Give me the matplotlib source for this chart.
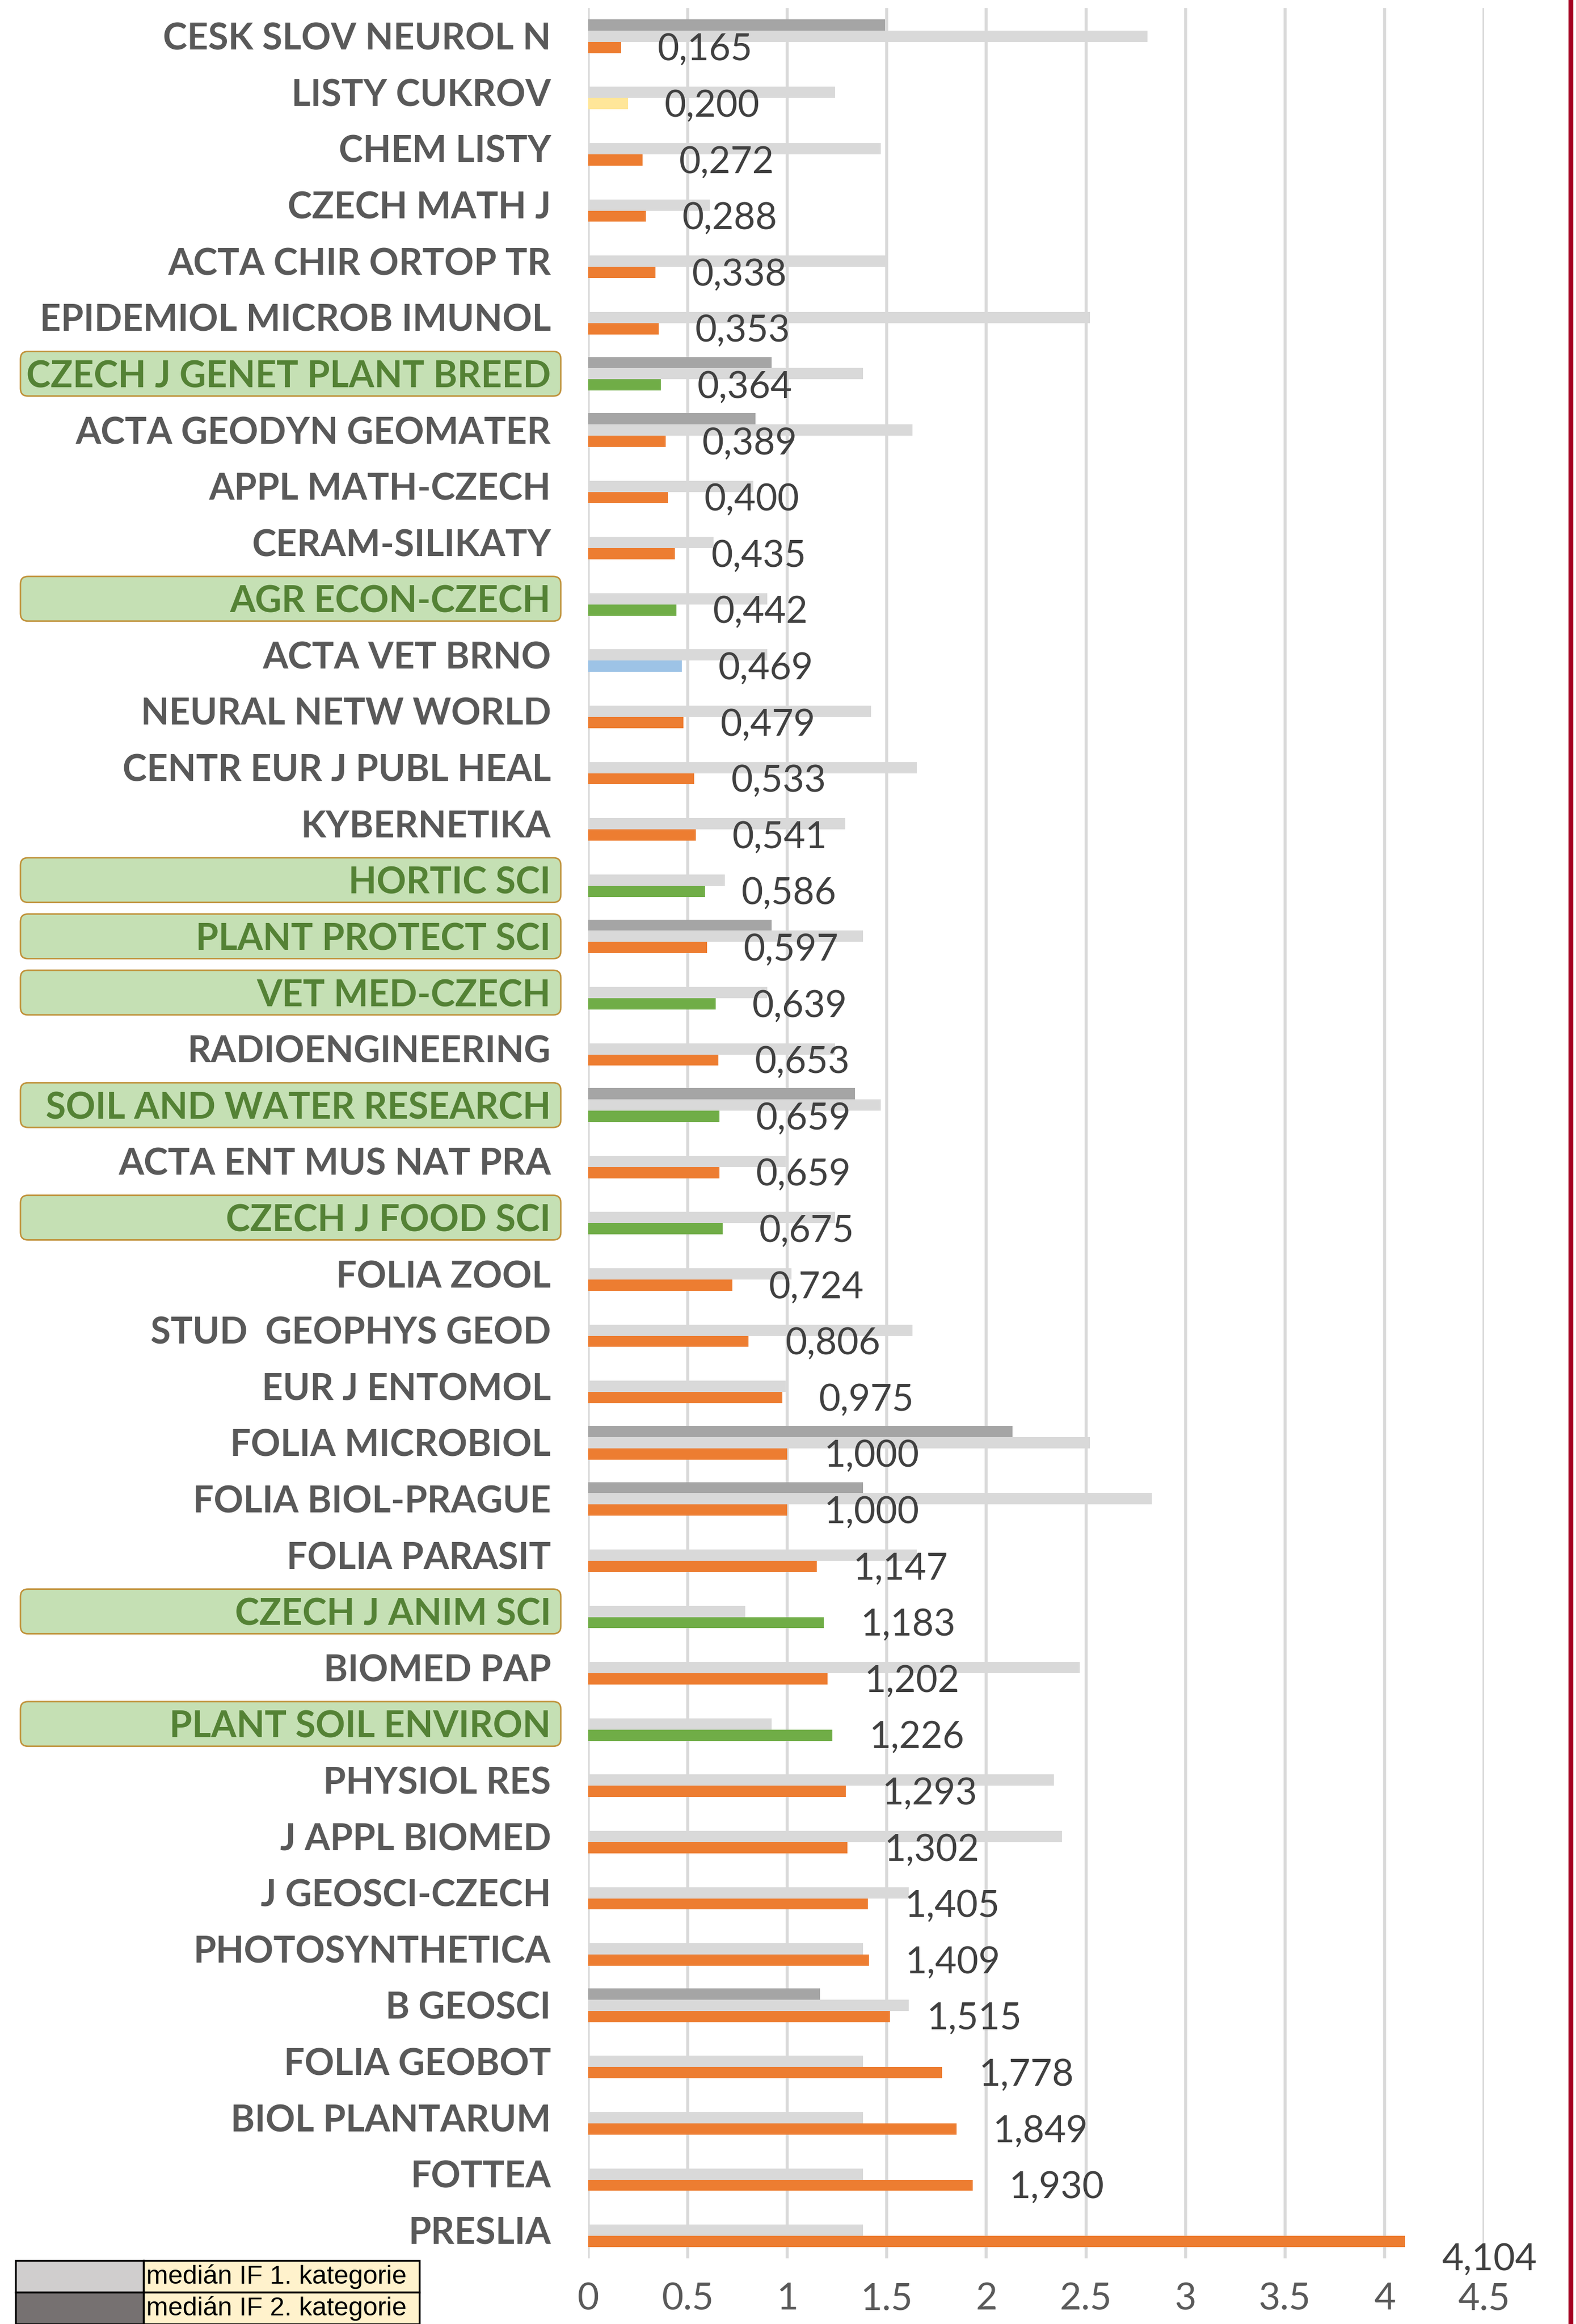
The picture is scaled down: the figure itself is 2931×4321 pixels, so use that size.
import numpy as np
import matplotlib
matplotlib.use("Agg")
import matplotlib.pyplot as plt
from matplotlib.patches import FancyBboxPatch, Rectangle
from matplotlib.lines import Line2D
from matplotlib.transforms import IdentityTransform

plt.rcParams['font.family'] = ['Lato', 'DejaVu Sans']

# data (top to bottom)
casopisy = ["CESK SLOV NEUROL N", "LISTY CUKROV", "CHEM LISTY", "CZECH MATH J",
            "ACTA CHIR ORTOP TR", "EPIDEMIOL MICROB IMUNOL", "CZECH J GENET PLANT BREED",
            "ACTA GEODYN GEOMATER", "APPL MATH-CZECH", "CERAM-SILIKATY", "AGR ECON-CZECH",
            "ACTA VET BRNO", "NEURAL NETW WORLD", "CENTR EUR J PUBL HEAL", "KYBERNETIKA",
            "HORTIC SCI", "PLANT PROTECT SCI", "VET MED-CZECH", "RADIOENGINEERING",
            "SOIL AND WATER RESEARCH", "ACTA ENT MUS NAT PRA", "CZECH J FOOD SCI",
            "FOLIA ZOOL", "STUD  GEOPHYS GEOD", "EUR J ENTOMOL", "FOLIA MICROBIOL",
            "FOLIA BIOL-PRAGUE", "FOLIA PARASIT", "CZECH J ANIM SCI", "BIOMED PAP",
            "PLANT SOIL ENVIRON", "PHYSIOL RES", "J APPL BIOMED", "J GEOSCI-CZECH",
            "PHOTOSYNTHETICA", "B GEOSCI", "FOLIA GEOBOT", "BIOL PLANTARUM", "FOTTEA", "PRESLIA"]

if_hodnoty = [0.165, 0.200, 0.272, 0.288, 0.338, 0.353, 0.364, 0.389, 0.400, 0.435,
              0.442, 0.469, 0.479, 0.533, 0.541, 0.586, 0.597, 0.639, 0.653, 0.659,
              0.659, 0.675, 0.724, 0.806, 0.975, 1.000, 1.000, 1.147, 1.183, 1.202,
              1.226, 1.293, 1.302, 1.405, 1.409, 1.515, 1.778, 1.849, 1.930, 4.104]

median1 = [2.81, 1.24, 1.47, 0.61, 1.50, 2.52, 1.38, 1.63, 0.83, 0.63,
           0.90, 0.90, 1.42, 1.65, 1.29, 0.685, 1.38, 0.90, 1.24, 1.47,
           0.99, 1.24, 1.02, 1.63, 0.99, 2.52, 2.83, 1.65, 0.79, 2.47,
           0.92, 2.34, 2.38, 1.61, 1.38, 1.61, 1.38, 1.38, 1.38, 1.38]

median2 = [1.49, None, None, None, None, None, 0.92, 0.84, None, None,
           None, None, None, None, None, None, 0.92, None, None, 1.34,
           None, None, None, None, None, 2.13, 1.38, None, None, None,
           None, None, None, None, None, 1.165, None, None, None, None]

# o = orange, g = green, y = yellow, b = blue
kody = ["o", "y", "o", "o", "o", "o", "g", "o", "o", "o",
        "g", "b", "o", "o", "o", "g", "o", "g", "o", "g",
        "o", "g", "o", "o", "o", "o", "o", "o", "g", "o",
        "g", "o", "o", "o", "o", "o", "o", "o", "o", "o"]

zvyraznene = ["CZECH J GENET PLANT BREED", "AGR ECON-CZECH", "HORTIC SCI",
              "PLANT PROTECT SCI", "VET MED-CZECH", "SOIL AND WATER RESEARCH",
              "CZECH J FOOD SCI", "CZECH J ANIM SCI", "PLANT SOIL ENVIRON"]

legenda = ["medián IF 1. kategorie", "medián IF 2. kategorie"]

barvy = {"o": "#ED7D31", "g": "#70AD47", "y": "#FFE699", "b": "#9DC3E6"}

W, H = 2931, 4321
fig = plt.figure(figsize=(W / 100, H / 100), dpi=100)
ax = fig.add_axes([1094 / W, 1 - 4199 / H, (2760 - 1094) / W, (4199 - 15) / H])

y = np.arange(len(casopisy))
m2 = np.array([np.nan if v is None else v for v in median2])
ax.barh(y - 0.2, m2, height=0.2, color="#A5A5A5", zorder=2)
ax.barh(y, median1, height=0.2, color="#D9D9D9", zorder=2)
ax.barh(y + 0.2, if_hodnoty, height=0.2, color=[barvy[k] for k in kody], zorder=3)

ax.set_xlim(0, 4.5)
ax.set_ylim(len(casopisy) - 0.5, -0.5)
ax.set_xticks(np.arange(0, 4.51, 0.5))
ax.set_xticklabels(["0", "0.5", "1", "1.5", "2", "2.5", "3", "3.5", "4", "4.5"],
                   fontsize=50, color="#595959")
ax.set_yticks(y)
ax.set_yticklabels(casopisy, fontsize=49, fontweight="bold", color="#595959")
for lab in ax.get_yticklabels():
    if lab.get_text() in zvyraznene:
        lab.set_color("#548235")
ax.tick_params(length=0)
ax.tick_params(axis="y", pad=50)
ax.tick_params(axis="x", pad=32)
ax.grid(axis="x", color="#D9D9D9", lw=4)
ax.set_axisbelow(True)
for s in ax.spines.values():
    s.set_visible(False)

# data labels (the largest one sits lower, as in the original)
for i, v in enumerate(if_hodnoty):
    dy = 0.52 if v > 4 else 0.24
    ax.annotate(f"{v:.3f}".replace(".", ","), (v, i + dy), xytext=(49, 0),
                textcoords="offset points", va="center", ha="left",
                fontsize=50, color="#404040", annotation_clip=False)

# green boxes behind highlighted labels
for i, name in enumerate(casopisy):
    if name in zvyraznene:
        yc = ax.transData.transform((0, i))[1]
        box = FancyBboxPatch((38, yc - 41.5), 1005, 83,
                             boxstyle="round,pad=0,rounding_size=14",
                             fc="#C5E0B4", ec="#C0923A", lw=2,
                             transform=IdentityTransform(), zorder=-1)
        fig.add_artist(box)

# legend table at bottom left
sw = ["#D0CECE", "#767171"]
for r in range(2):
    top = 4203 + r * 59
    fig.add_artist(Rectangle((29, H - top - 59), 238, 59, fc=sw[r], ec="black",
                             lw=2.5, transform=IdentityTransform()))
    fig.add_artist(Rectangle((267, H - top - 59), 513, 59, fc="#FFF2CC", ec="black",
                             lw=2.5, transform=IdentityTransform()))
    fig.text(272 / W, 1 - (top + 30) / H, legenda[r], fontsize=35, color="black",
             va="center", ha="left", family="Liberation Sans")

# red edge line
fig.add_artist(Line2D([2921, 2921], [0, H], color="#A50021", lw=6.5,
                      transform=IdentityTransform()))

fig.savefig("out.png", dpi=100)
